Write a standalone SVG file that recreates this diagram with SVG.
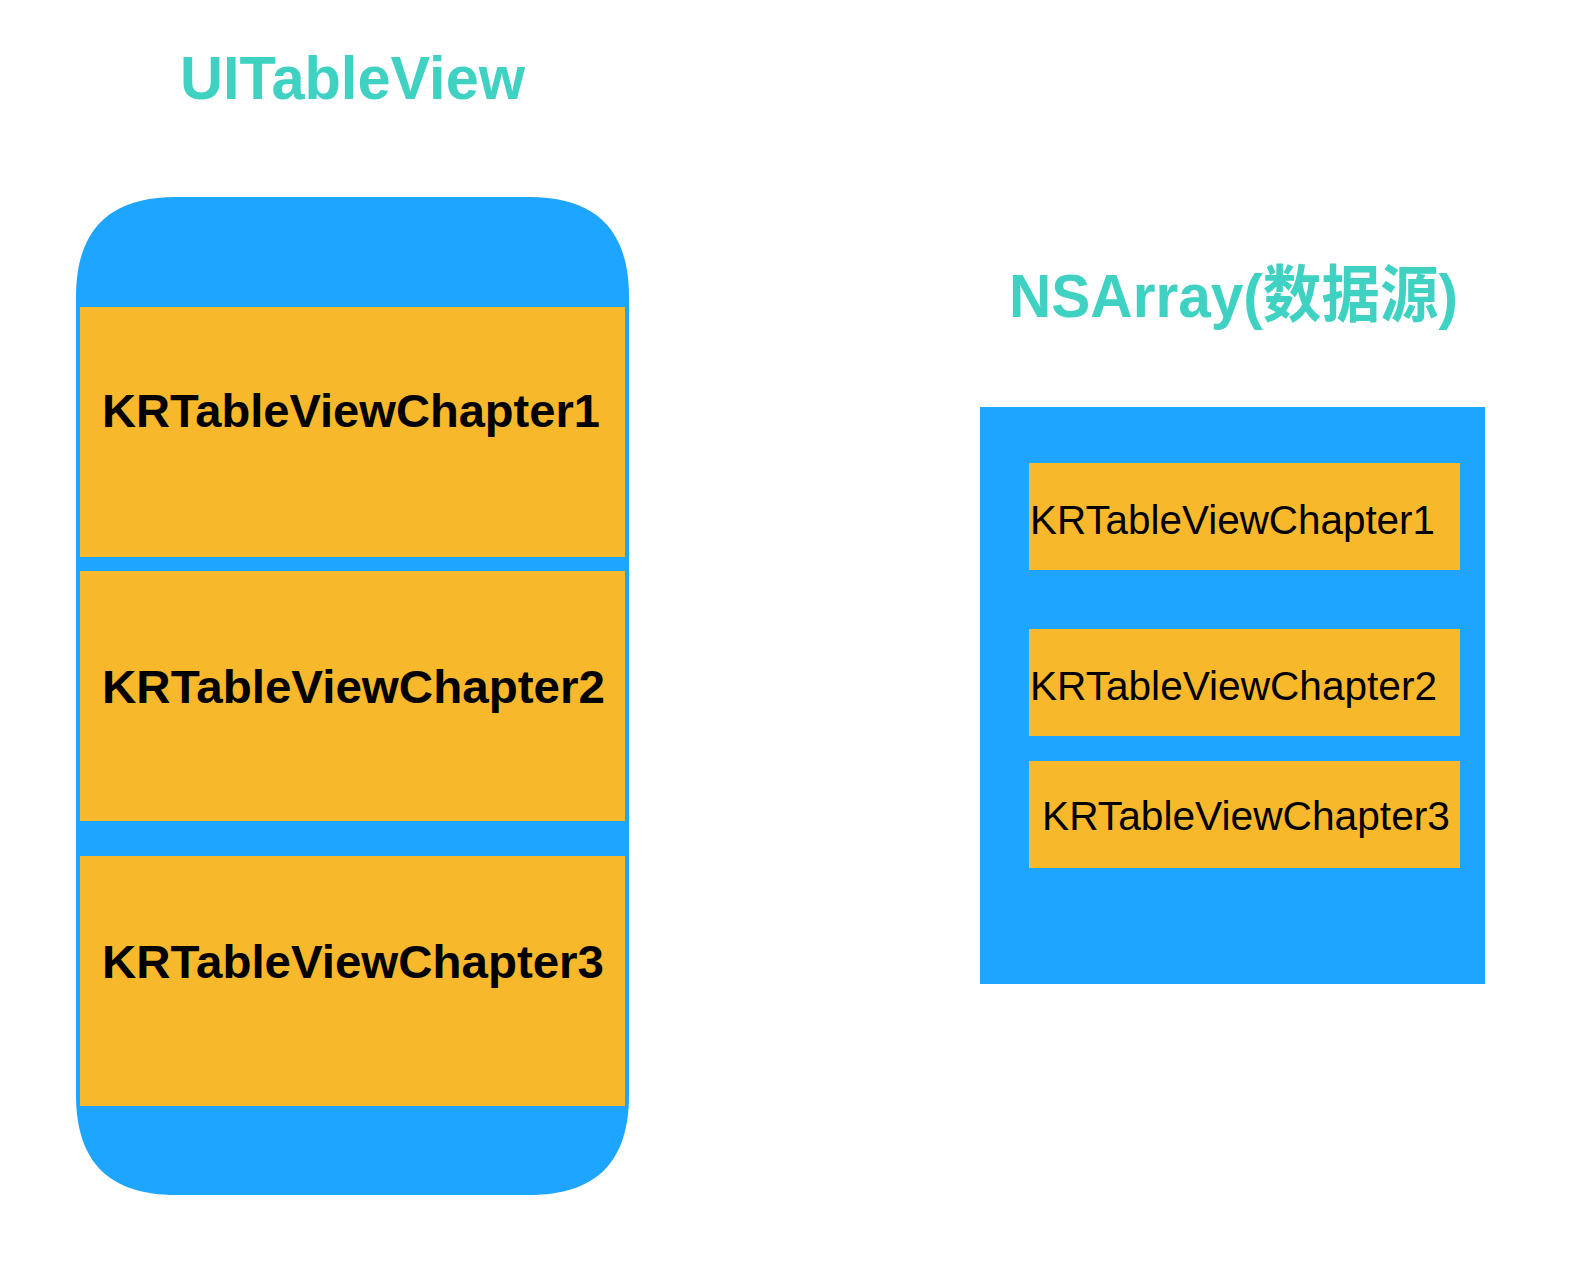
<svg xmlns="http://www.w3.org/2000/svg" width="1586" height="1278" viewBox="0 0 1586 1278">
<style>
.blue{fill:#1EA5FF}
.cell{fill:#F7B82B}
.title{font-family:"Liberation Sans","Noto Sans CJK SC",Arial,sans-serif;font-weight:bold;font-size:62px;fill:#3FD2C3}
.bold{font-family:"Liberation Sans",Arial,sans-serif;font-weight:bold;font-size:47px;fill:#000}
.reg{font-family:"Liberation Sans",Arial,sans-serif;font-size:41px;fill:#000}
</style>
<rect width="1586" height="1278" fill="#fff"/>
<g id="title-uitableview"><text class="title" x="180" y="99" textLength="345" lengthAdjust="spacingAndGlyphs">UITableView</text></g>
<g id="title-nsarray"><text class="title" x="1009" y="317" textLength="449" lengthAdjust="spacingAndGlyphs">NSArray(数据源)</text></g>
<g id="tableview">
<path class="blue" d="M176,197 H529 C596,197 629,230 629,297 V1095 C629,1162 596,1195 529,1195 H176 C109,1195 76,1162 76,1095 V297 C76,230 109,197 176,197 Z"/>
</g>
<g id="tv-chapter1"><rect class="cell" x="80" y="307" width="545" height="250"/><text class="bold" x="102" y="427" textLength="498" lengthAdjust="spacingAndGlyphs">KRTableViewChapter1</text></g>
<g id="tv-chapter2"><rect class="cell" x="80" y="571" width="545" height="250"/><text class="bold" x="102" y="703" textLength="503" lengthAdjust="spacingAndGlyphs">KRTableViewChapter2</text></g>
<g id="tv-chapter3"><rect class="cell" x="80" y="856" width="545" height="250"/><text class="bold" x="102" y="978" textLength="502" lengthAdjust="spacingAndGlyphs">KRTableViewChapter3</text></g>
<g id="nsarray"><rect class="blue" x="980" y="407" width="505" height="577"/></g>
<g id="arr-chapter1"><rect class="cell" x="1029" y="463" width="431" height="107"/><text class="reg" x="1030" y="534" textLength="405" lengthAdjust="spacingAndGlyphs">KRTableViewChapter1</text></g>
<g id="arr-chapter2"><rect class="cell" x="1029" y="629" width="431" height="107"/><text class="reg" x="1030" y="700" textLength="407" lengthAdjust="spacingAndGlyphs">KRTableViewChapter2</text></g>
<g id="arr-chapter3"><rect class="cell" x="1029" y="761" width="431" height="107"/><text class="reg" x="1042" y="830" textLength="408" lengthAdjust="spacingAndGlyphs">KRTableViewChapter3</text></g>
<g id="connectors"/>
</svg>
